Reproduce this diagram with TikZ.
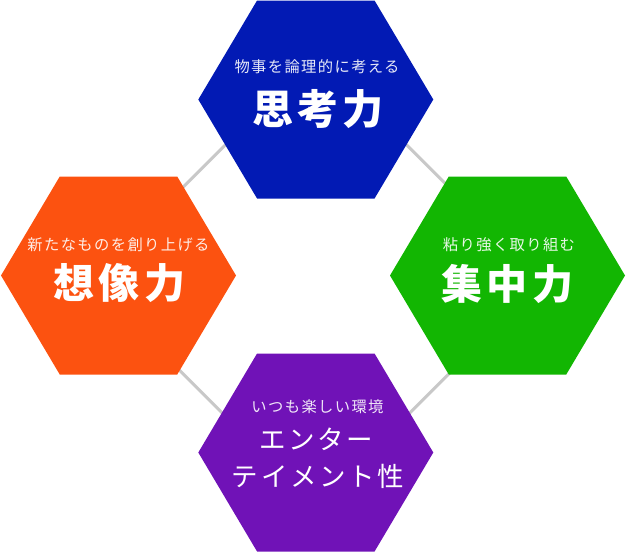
\documentclass[tikz,border=0pt]{standalone}
\usepackage{fontspec}
\newfontfamily\jpsmall[LetterSpace=9]{Noto Sans CJK JP}
\newfontfamily\jpbig[LetterSpace=10]{Noto Sans CJK JP}
\definecolor{hblue}{RGB}{2,26,180}
\definecolor{horange}{RGB}{252,82,16}
\definecolor{hgreen}{RGB}{18,182,2}
\definecolor{hpurple}{RGB}{112,18,183}
\definecolor{lgray}{RGB}{200,200,200}
\newcommand{\hexfill}[2]{\fill[#2] ($(#1)+(-117.5,0)$) -- ++(58.75,99) -- ++(117.5,0) -- ++(58.75,-99) -- ++(-58.75,-99) -- ++(-117.5,0) -- cycle;}
\usetikzlibrary{calc}
\tikzset{
  link/.style={draw=lgray, line width=3pt},
  small/.style={inner sep=0pt, text=white, opacity=0.9, font=\jpsmall\fontsize{15.3}{17}\selectfont},
  big/.style={inner sep=0pt, text=white, font=\jpbig\bfseries\fontsize{41}{45}\selectfont},
  bigthin/.style={inner sep=0pt, text=white, font=\jpbig\fontsize{26.5}{30}\selectfont}
}
\begin{document}
\begin{tikzpicture}[x=1pt,y=-1pt]
\useasboundingbox (0,0) rectangle (626,552);
% diamond behind
\coordinate (dT) at (316,54);
\coordinate (dL) at (90,280.5);
\coordinate (dR) at (542,280.5);
\coordinate (dB) at (316,507);
\draw[link] (dT) -- (dL) -- (dB) -- (dR) -- cycle;
% hexagon centres
\coordinate (cT) at (315.8,99.5);
\coordinate (cL) at (118.5,275.5);
\coordinate (cR) at (507.5,275.5);
\coordinate (cB) at (315.8,452.5);
\hexfill{cT}{hblue}
\hexfill{cL}{horange}
\hexfill{cR}{hgreen}
\hexfill{cB}{hpurple}
% texts
\node[small] (sT) at (317,67) {物事を論理的に考える};
\node[big] (bT) at (318,109) {思考力};
\node[small] (sL) at (118.5,245) {新たなものを創り上げる};
\node[big] (bL) at (119.5,283.5) {想像力};
\node[small] (sR) at (509,245) {粘り強く取り組む};
\node[big] (bR) at (507.5,283.5) {集中力};
\node[small] (sB) at (317.5,407) {いつも楽しい環境};
\node[bigthin] (bB1) at (316.5,439.5) {エンター};
\node[bigthin] (bB2) at (318,476) {テイメント性};
\end{tikzpicture}
\end{document}
